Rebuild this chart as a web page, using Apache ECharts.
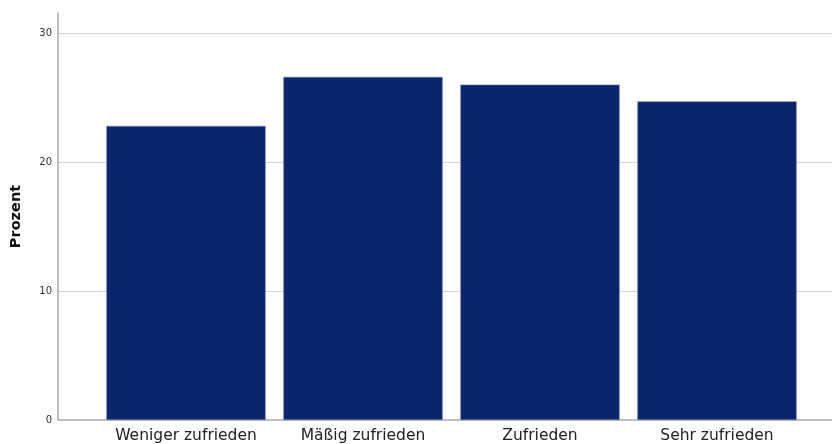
<!DOCTYPE html>
<html><head><meta charset="utf-8">
<script src="https://cdn.jsdelivr.net/npm/echarts@6/dist/echarts.min.js"></script>
<style>html,body{margin:0;padding:0;background:#fff}#c{width:832px;height:444px}</style>
</head><body><div id="c"></div>
<script>
const categories = ['Weniger zufrieden', 'Mäßig zufrieden', 'Zufrieden', 'Sehr zufrieden'];
const percentValues = [22.8, 26.6, 26.0, 24.7];
const yTicks = [0, 10, 20, 30];
const yAxisTitle = 'Prozent';

const yMax = 31.55;
const chart = echarts.init(document.getElementById('c'), null, {renderer: 'canvas'});
chart.setOption({
  animation: false,
  grid: [
    {left: 58, right: 0, top: 13, bottom: 24, containLabel: false},
    {left: 97.5, right: 26.5, top: 13, bottom: 24, containLabel: false}
  ],
  xAxis: [
    {gridIndex: 0, type: 'value', min: 0, max: 1, axisLine: {show: true, onZero: false, lineStyle: {color: '#aaaaaa', width: 1.5}},
     axisTick: {show: false}, axisLabel: {show: false}, splitLine: {show: false}},
    {gridIndex: 1, type: 'category', data: categories, axisLine: {show: false}, axisTick: {show: false},
     axisLabel: {interval: 0, hideOverlap: false, color: '#222', fontSize: 15.5, fontFamily: 'DejaVu Sans', margin: 8}}
  ],
  yAxis: [
    {gridIndex: 0, type: 'value', min: 0, max: yMax, interval: 10,
     name: yAxisTitle, nameLocation: 'middle', nameGap: 34,
     nameTextStyle: {fontSize: 14.5, fontWeight: 'bold', color: '#111', fontFamily: 'DejaVu Sans'},
     axisLine: {show: true, lineStyle: {color: '#aaaaaa', width: 1.5}},
     axisTick: {show: false},
     axisLabel: {fontSize: 10, color: '#333', margin: 6, showMaxLabel: false, fontFamily: 'DejaVu Sans',
       formatter: v => yTicks.includes(v) ? String(v) : ''},
     splitLine: {show: true, showMinLine: false, showMaxLine: false, lineStyle: {color: '#d4d4d4', width: 1}}},
    {gridIndex: 1, type: 'value', min: 0, max: yMax, interval: 10, show: false, splitLine: {show: false}}
  ],
  series: [{
    type: 'bar', xAxisIndex: 1, yAxisIndex: 1, data: percentValues,
    barCategoryGap: '10%',
    itemStyle: {color: '#0b256c', borderColor: '#6f7fa8', borderWidth: 0.6}
  }]
});
</script></body></html>
